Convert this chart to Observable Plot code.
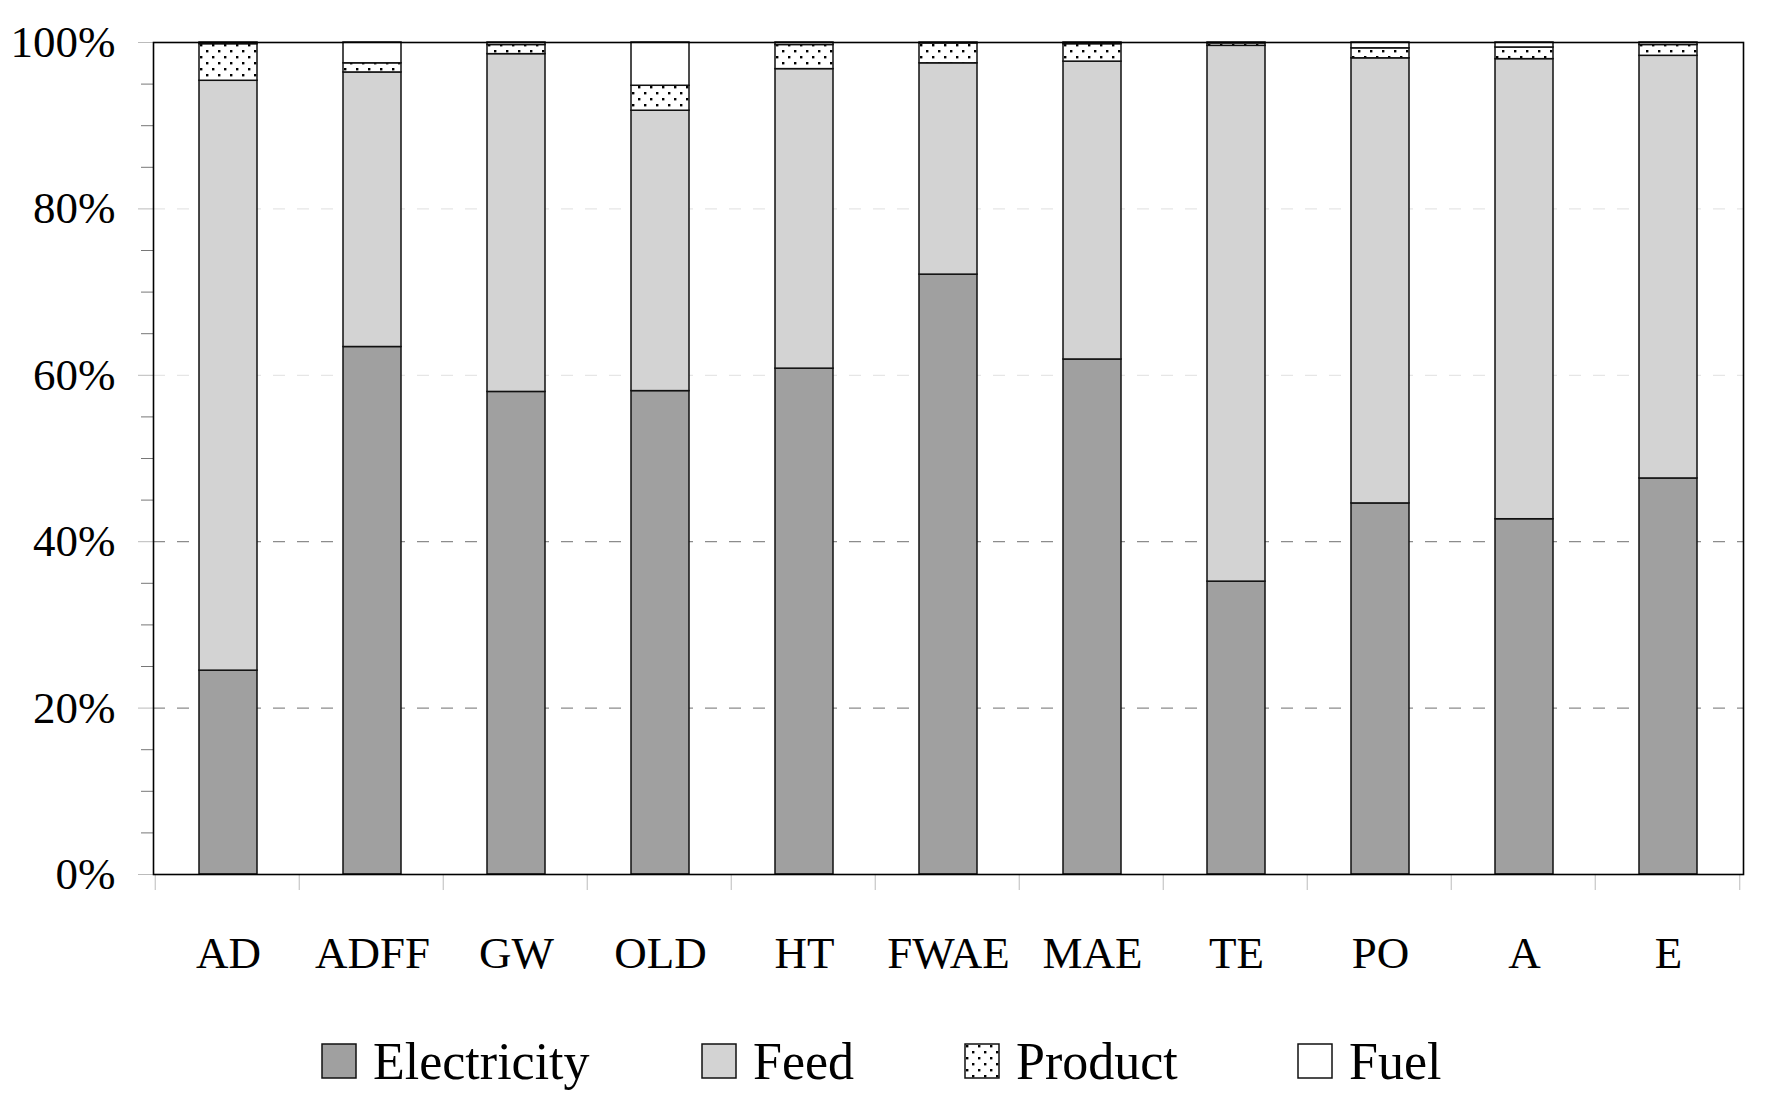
<!DOCTYPE html>
<html>
<head>
<meta charset="utf-8">
<script src="https://cdn.jsdelivr.net/npm/d3@7"></script>
<script src="https://cdn.jsdelivr.net/npm/@observablehq/plot@0.6"></script>
<style>
  body { margin: 0; background: white; font-family: "Liberation Serif", serif; }
  #legend { position: relative; width: 1768px; height: 103px; }
  .item { position: absolute; top: 43px; display: flex; align-items: flex-end; height: 36px; }
  .item svg { display: block; }
  .item span { font-size: 52px; line-height: 36px; margin-left: 16px; color: black; position: relative; top: 1px; }
</style>
</head>
<body>
<div id="chart"></div>
<div id="legend"></div>
<script>
const categories = ["AD", "ADFF", "GW", "OLD", "HT", "FWAE", "MAE", "TE", "PO", "A", "E"];
const seriesNames = ["Electricity", "Feed", "Product", "Fuel"];
const electricity = [24.5, 63.4, 58.0, 58.1, 60.8, 72.1, 61.9, 35.2, 44.6, 42.7, 47.6];
const feed        = [70.9, 33.0, 40.6, 33.7, 36.0, 25.4, 35.8, 64.4, 53.5, 55.3, 50.8];
const product     = [ 4.4,  1.1,  1.1,  3.0,  2.9,  2.4,  2.1,  0.3,  1.2,  1.4,  1.3];
const fuel        = [ 0.2,  2.5,  0.3,  5.2,  0.3,  0.1,  0.2,  0.1,  0.7,  0.6,  0.3];
const seriesColors = ["#a0a0a0", "#d3d3d3", "url(#dots)", "#ffffff"];
const majorTicks = [0, 0.2, 0.4, 0.6, 0.8, 1];
const minorTicks = d3.range(1, 20).filter(i => i % 4 !== 0).map(i => i * 0.05);

const seriesValues = [electricity, feed, product, fuel];
const rows = [];
categories.forEach((c, i) => {
  seriesNames.forEach((s, j) => rows.push({category: c, series: s, value: seriesValues[j][i] / 100}));
});

const W = 1768, H = 1000, ML = 153, MR = 25, MT = 42, MB = 126;
const step = (W - ML - MR) / categories.length;

const svg = Plot.plot({
  width: W,
  height: H,
  marginLeft: ML,
  marginRight: MR,
  marginTop: MT,
  marginBottom: MB,
  style: {fontFamily: "'Liberation Serif', serif", background: "white", color: "black"},
  x: {domain: categories, paddingInner: 0.6, paddingOuter: 0.3, label: null},
  y: {domain: [0, 1], label: null},
  color: {domain: seriesNames, range: seriesColors},
  marks: [
    Plot.gridY([0.6, 0.8], {stroke: "#e6e6e6", strokeOpacity: 1, strokeDasharray: "12,12", strokeWidth: 1.2}),
    Plot.gridY([0.2, 0.4], {stroke: "#8c8c8c", strokeOpacity: 1, strokeDasharray: "12,12", strokeWidth: 1.2}),
    Plot.barY(rows, {x: "category", y: "value", fill: "series", stroke: "#111", strokeWidth: 1.5}),
    Plot.axisY(majorTicks, {tickSize: 15, tickPadding: 23, tickFormat: d3.format(".0%"), fontSize: 45, stroke: "#bbb", fill: "black"}),
    Plot.axisY(minorTicks, {tickSize: 12, tickFormat: () => "", stroke: "#777"}),
    Plot.axisX({tickSize: 16, tickFormat: () => "", dx: -step / 2 - 1, stroke: "#bbb"}),
    Plot.axisX([categories[categories.length - 1]], {tickSize: 16, tickFormat: () => "", dx: step / 2 - 1, stroke: "#bbb"}),
    Plot.axisX({tickSize: 0, tickPadding: 62, fontSize: 45, fill: "black"}),
    Plot.frame({stroke: "black", strokeWidth: 1.6})
  ]
});

const ns = "http://www.w3.org/2000/svg";
function addDots(target, id) {
  const defs = document.createElementNS(ns, "defs");
  defs.innerHTML = `<pattern id="${id}" width="12" height="12" patternUnits="userSpaceOnUse">
    <rect width="12" height="12" fill="white"/>
    <rect x="2" y="2" width="2.4" height="2.4" fill="black"/>
    <rect x="8" y="8" width="2.4" height="2.4" fill="black"/>
  </pattern>`;
  target.insertBefore(defs, target.firstChild);
}
addDots(svg, "dots");
document.getElementById("chart").appendChild(svg);

// legend
const legendX = [321, 701, 964, 1297];
const legend = document.getElementById("legend");
seriesNames.forEach((s, j) => {
  const item = document.createElement("div");
  item.className = "item";
  item.style.left = legendX[j] + "px";
  const sw = document.createElementNS(ns, "svg");
  sw.setAttribute("width", 36);
  sw.setAttribute("height", 36);
  const fill = seriesColors[j].startsWith("url") ? "url(#dotsLegend" + j + ")" : seriesColors[j];
  if (seriesColors[j].startsWith("url")) addDots(sw, "dotsLegend" + j);
  const r = document.createElementNS(ns, "rect");
  r.setAttribute("x", 1); r.setAttribute("y", 1);
  r.setAttribute("width", 34); r.setAttribute("height", 34);
  r.setAttribute("fill", fill);
  r.setAttribute("stroke", "#111");
  r.setAttribute("stroke-width", 1.5);
  sw.appendChild(r);
  item.appendChild(sw);
  const t = document.createElement("span");
  t.textContent = s;
  item.appendChild(t);
  legend.appendChild(item);
});
</script>
</body>
</html>
